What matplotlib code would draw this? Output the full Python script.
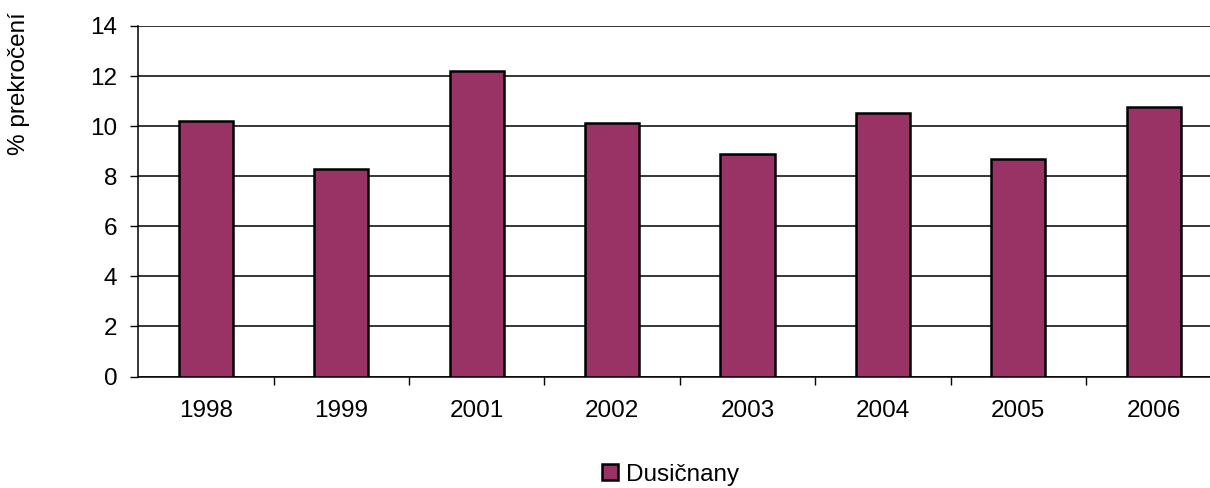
import matplotlib
matplotlib.use("Agg")
import matplotlib.pyplot as plt
import numpy as np

plt.rcParams['font.family'] = ['Liberation Sans', 'DejaVu Sans']

roky = ['1998', '1999', '2001', '2002', '2003', '2004', '2005', '2006']
dusicnany = [10.2, 8.28, 12.19, 10.13, 8.88, 10.51, 8.68, 10.77]

fig = plt.figure(figsize=(12.1, 4.88), dpi=100)
ax = fig.add_axes([138.3 / 1210, 1 - 376.5 / 488, 1083 / 1210, 350.5 / 488])

x = np.arange(len(roky))
ax.bar(x, dusicnany, width=0.4, color='#993366', edgecolor='black',
       linewidth=1.8, label='Dusičnany', zorder=3)

ax.set_xlim(-0.5, len(roky) - 0.5)
ax.set_ylim(0, 14)
ax.set_yticks(np.arange(0, 15, 2))
ax.yaxis.grid(True, color='black', linewidth=1.1, zorder=0)
ax.set_axisbelow(True)

# popisky let uprostred, carky na hranicich kategorii
ax.set_xticks(x)
ax.set_xticklabels(roky)
ax.set_xticks(np.arange(0.5, len(roky) - 0.5), minor=True)
ax.tick_params(axis='x', which='major', length=0, pad=17, labelsize=17.5)
ax.tick_params(axis='x', which='minor', length=6, width=1, direction='out')
ax.tick_params(axis='y', length=6, width=1, pad=9, labelsize=17.5)

for s in ['top', 'right']:
    ax.spines[s].set_visible(False)
for s in ['left', 'bottom']:
    ax.spines[s].set_linewidth(1.1)

fig.text(0.0157, 0.828, '% prekročení', rotation=90, ha='center', va='center', fontsize=17.5)

fig.legend(loc='center', bbox_to_anchor=(0.5545, 0.027), frameon=False, fontsize=17.5,
           handlelength=0.66, handleheight=0.66, handletextpad=0.33)

fig.savefig('out.png', dpi=100)
